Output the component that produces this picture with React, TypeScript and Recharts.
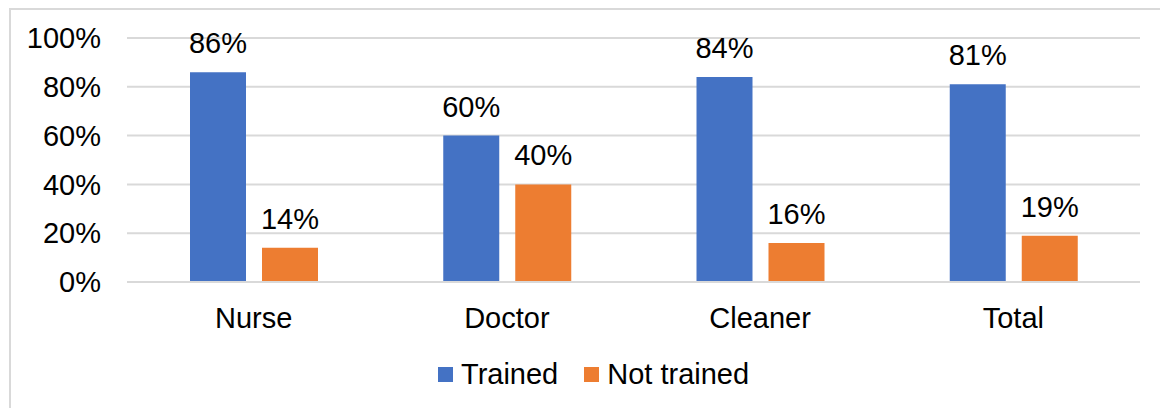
import React from 'react';
import { BarChart, Bar, XAxis, YAxis, CartesianGrid, Legend, LabelList } from 'recharts';

// Share of staff trained, by staff group
const categories = ['Nurse', 'Doctor', 'Cleaner', 'Total'];
const trained = [86, 60, 84, 81];
const notTrained = [14, 40, 16, 19];
const yTicks = [0, 20, 40, 60, 80, 100];
const seriesNames = ['Trained', 'Not trained'];

const data = categories.map((name, i) => ({
  name,
  trained: trained[i],
  notTrained: notTrained[i],
}));

const FONT = '"Liberation Sans", Arial, sans-serif';
const FS = 29;
const BLUE = '#4472C4';
const ORANGE = '#ED7D31';
const GRID = '#d9d9d9';

const pct = (v: number) => `${v}%`;

const ValueLabel = (props: any) => {
  const { x, y, width, value } = props;
  return (
    <text
      x={x + width / 2}
      y={y - 19}
      textAnchor="middle"
      fontFamily={FONT}
      fontSize={FS}
      fill="#000"
    >
      {pct(value)}
    </text>
  );
};

const LegendContent = (props: any) => {
  const { payload = [] } = props;
  // keep the series order of the bars
  const items = [...payload].sort(
    (a: any, b: any) => seriesNames.indexOf(a.value) - seriesNames.indexOf(b.value)
  );
  return (
    <div
      style={{
        display: 'flex',
        alignItems: 'center',
        fontFamily: FONT,
        fontSize: FS,
        lineHeight: '32px',
        color: '#000',
        whiteSpace: 'nowrap',
      }}
    >
      {items.map((entry: any, i: number) => (
        <div
          key={entry.value}
          style={{ display: 'flex', alignItems: 'center', marginLeft: i === 0 ? 0 : 26 }}
        >
          <span
            style={{ display: 'inline-block', width: 15, height: 15, background: entry.color, marginRight: 8 }}
          />
          <span>{entry.value}</span>
        </div>
      ))}
    </div>
  );
};

export default function App() {
  return (
    <div style={{ position: 'fixed', left: 0, top: 0, width: 1160, height: 408, background: '#fff' }}>
      <svg
        width={1160}
        height={408}
        style={{ position: 'absolute', left: 0, top: 0 }}
      >
        <line x1={10} y1={8} x2={10} y2={408} stroke={GRID} strokeWidth={2} />
        <line x1={9} y1={9} x2={1160} y2={9} stroke={GRID} strokeWidth={2} />
      </svg>
      <div style={{ position: 'absolute', left: 0, top: 0 }}>
        <BarChart
          width={1160}
          height={408}
          data={data}
          margin={{ top: 38, right: 20, bottom: 80, left: 0 }}
          barSize={56}
          barGap={16}
        >
          <CartesianGrid vertical={false} stroke={GRID} strokeWidth={2} />
          <XAxis
            dataKey="name"
            axisLine={{ stroke: GRID, strokeWidth: 2 }}
            tickLine={false}
            tickSize={0}
            tickMargin={25}
            height={46}
            tick={{ fill: '#000', fontFamily: FONT, fontSize: FS }}
          />
          <YAxis
            width={127}
            domain={[0, 100]}
            ticks={yTicks}
            tickFormatter={pct}
            axisLine={false}
            tickLine={false}
            tickSize={0}
            tickMargin={26}
            tick={{ fill: '#000', fontFamily: FONT, fontSize: FS }}
          />
          <Legend
            layout="horizontal"
            verticalAlign="middle"
            align="center"
            wrapperStyle={{ top: 358, left: 438, width: 420 }}
            content={<LegendContent />}
          />
          <Bar dataKey="trained" name={seriesNames[0]} fill={BLUE} isAnimationActive={false}>
            <LabelList dataKey="trained" content={<ValueLabel />} />
          </Bar>
          <Bar dataKey="notTrained" name={seriesNames[1]} fill={ORANGE} isAnimationActive={false}>
            <LabelList dataKey="notTrained" content={<ValueLabel />} />
          </Bar>
        </BarChart>
      </div>
    </div>
  );
}
